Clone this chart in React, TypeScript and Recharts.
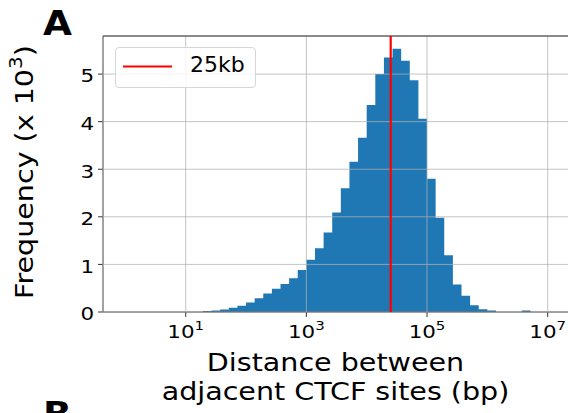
import React from 'react';
import {
  ComposedChart, Area, XAxis, YAxis, CartesianGrid, ReferenceLine, Legend, Label,
} from 'recharts';

// Histogram of distances between neighbouring CTCF sites.
// Bins are equal-width in log space: 7 bins per decade, the first one starting at 10^(9/7) bp.
const BINS_PER_DECADE = 7;
const FIRST_EDGE = 9; // in 1/7-decade steps
const COUNTS_K = [
  0.02, 0.03, 0.05, 0.09, 0.13, 0.2, 0.29, 0.39, 0.49, 0.59,
  0.71, 0.88, 1.1, 1.34, 1.67, 2.09, 2.6, 3.16, 3.66, 4.35,
  5.0, 5.35, 5.53, 5.28, 4.87, 4.06, 2.8, 1.98, 1.19, 0.58,
  0.34, 0.14, 0.06, 0.03, 0, 0, 0, 0.03,
];

const X_TICKS = [10, 1e3, 1e5, 1e7];
const Y_TICKS = [0, 1, 2, 3, 4, 5];
const X_DOMAIN = [10 ** -0.371, 10 ** 7.37];
const Y_DOMAIN = [0, 5.8];

const THRESHOLD_BP = 25000;
const THRESHOLD_LABEL = '25kb';

const BLUE = '#1f77b4';
const RED = '#ff0000';
const SPINE = '#333333';
const FONT = '"DejaVu Sans", sans-serif';
const SX = 1.19; // text runs a little wide

// step points: one per bin left edge, plus the closing right edge
const histData = COUNTS_K.map((freq, i) => ({
  bp: 10 ** ((FIRST_EDGE + i) / BINS_PER_DECADE),
  freq,
}));
histData.push({ bp: 10 ** ((FIRST_EDGE + COUNTS_K.length) / BINS_PER_DECADE), freq: 0 });

const LogTick = (props: any) => {
  const { x, y, payload } = props;
  const exp = Math.round(Math.log10(payload.value));
  return (
    <text
      transform={`translate(${x},${y + 19}) scale(${SX},1)`}
      textAnchor="middle"
      fontSize={18}
      fontFamily={FONT}
      fill="#000"
    >
      10
      <tspan dy={-8} fontSize={12.6}>{exp}</tspan>
    </text>
  );
};

const CountTick = (props: any) => {
  const { x, y, payload } = props;
  return (
    <text
      transform={`translate(${x - 2},${y + 8.4}) scale(${SX},1)`}
      textAnchor="end"
      fontSize={18}
      fontFamily={FONT}
      fill="#000"
    >
      {payload.value}
    </text>
  );
};

const XTitle = (props: any) => {
  const vb = props.viewBox;
  const cx = vb.x + (568 - vb.x) / 2;
  return (
    <g fontSize={24} fontFamily={FONT} fill="#000">
      <text transform={`translate(${cx},${vb.y + 59}) scale(${SX},1)`} textAnchor="middle">
        Distance between
      </text>
      <text transform={`translate(${cx},${vb.y + 88}) scale(${SX},1)`} textAnchor="middle">
        adjacent CTCF sites (bp)
      </text>
    </g>
  );
};

const YTitle = (props: any) => {
  const vb = props.viewBox;
  const cy = vb.y + vb.height / 2 - 2;
  return (
    <text
      transform={`translate(${vb.x + 33},${cy}) rotate(-90) scale(${SX},1)`}
      textAnchor="middle"
      fontSize={24}
      fontFamily={FONT}
      fill="#000"
    >
      Frequency (x 10
      <tspan dy={-11} fontSize={16.8}>3</tspan>
      <tspan dy={11}>)</tspan>
    </text>
  );
};

const ThresholdLegend = () => (
  <div
    style={{
      width: 139,
      height: 39,
      border: '1px solid #d6d6d6',
      borderRadius: 4,
      background: 'rgba(255,255,255,0.85)',
      position: 'relative',
      fontFamily: FONT,
    }}
  >
    <svg width={60} height={39} style={{ position: 'absolute', left: 0, top: 0 }}>
      <line x1={7} x2={56} y1={18.5} y2={18.5} stroke={RED} strokeWidth={2} />
    </svg>
    <span
      style={{
        position: 'absolute',
        left: 74,
        top: 4,
        fontSize: 22,
        lineHeight: '26px',
        color: '#000',
      }}
    >
      {THRESHOLD_LABEL}
    </span>
  </div>
);

const App: React.FC = () => {
  return (
    <div
      style={{
        position: 'absolute',
        left: 0,
        top: 0,
        width: 568,
        height: 413,
        overflow: 'hidden',
        background: '#fff',
        fontFamily: FONT,
      }}
    >
      <ComposedChart
        width={570}
        height={413}
        data={histData}
        margin={{ top: 36, right: 0, bottom: 0, left: 0 }}
      >
        <XAxis
          dataKey="bp"
          type="number"
          scale="log"
          domain={X_DOMAIN}
          ticks={X_TICKS}
          interval={0}
          allowDataOverflow
          height={101}
          tickSize={5}
          tick={<LogTick />}
          axisLine={{ stroke: SPINE, strokeWidth: 1 }}
          tickLine={{ stroke: SPINE, strokeWidth: 1 }}
        >
          <Label content={<XTitle />} />
        </XAxis>
        <YAxis
          type="number"
          domain={Y_DOMAIN}
          ticks={Y_TICKS}
          interval={0}
          allowDataOverflow
          width={103}
          tickSize={5}
          tick={<CountTick />}
          axisLine={{ stroke: SPINE, strokeWidth: 1 }}
          tickLine={{ stroke: SPINE, strokeWidth: 1 }}
        >
          <Label content={<YTitle />} />
        </YAxis>
        <Area
          dataKey="freq"
          type="stepAfter"
          fill={BLUE}
          fillOpacity={1}
          stroke="none"
          dot={false}
          activeDot={false}
          isAnimationActive={false}
        />
        <CartesianGrid
          stroke="#b0b0b0"
          strokeOpacity={0.75}
          strokeWidth={1}
          zIndex={500}
        />
        <ReferenceLine y={Y_DOMAIN[1]} stroke={SPINE} strokeWidth={1} zIndex={600} />
        <ReferenceLine x={THRESHOLD_BP} stroke={RED} strokeWidth={2.2} zIndex={700} />
        <Legend
          layout="horizontal"
          verticalAlign="middle"
          align="center"
          content={<ThresholdLegend />}
          wrapperStyle={{ left: 115, top: 47, width: 141, height: 41 }}
        />
      </ComposedChart>
      <svg
        width={568}
        height={413}
        style={{ position: 'absolute', left: 0, top: 0, pointerEvents: 'none' }}
      >
        <g fontFamily={FONT} fontWeight="bold" fontSize={34} fill="#000">
          <text transform={`translate(43,35) scale(1.1,1)`}>A</text>
          <text transform={`translate(43,426) scale(1.1,1)`}>B</text>
        </g>
      </svg>
    </div>
  );
};

export default App;
